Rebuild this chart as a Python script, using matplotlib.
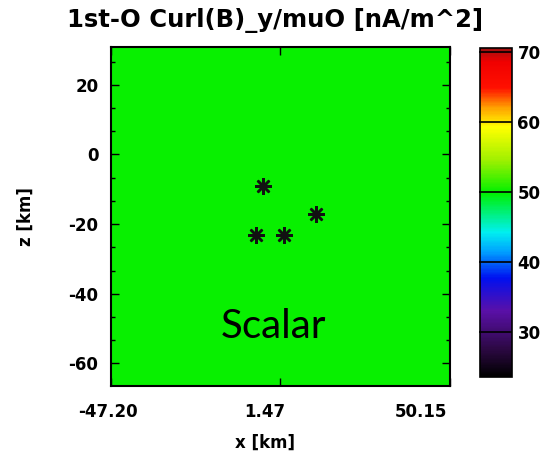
import numpy as np
import matplotlib
matplotlib.use("Agg")
import matplotlib.pyplot as plt
import matplotlib.transforms as mtransforms
from matplotlib.colors import LinearSegmentedColormap
from matplotlib.ticker import AutoMinorLocator

plt.rcParams["axes.unicode_minus"] = False

# domain (km)
x_range = [-47.20, 50.15]
z_range = [-66.5, 30.85]
x_ticks = [-47.20, 1.47, 50.15]
x_tick_labels = ["-47.20", "1.47", "50.15"]
z_ticks = [20, 0, -20, -40, -60]

# field: uniform value across the grid (nA/m^2)
field_value = 50.0
grid_nx, grid_nz = 4, 4

# spacecraft positions (x, z) in km
sc_x = [-3.5, 11.7, -5.6, 2.5]
sc_z = [-9.2, -17.2, -23.2, -23.2]

cbar_range = [23.5, 70.5]
cbar_ticks = [30, 40, 50, 60, 70]

cmap = LinearSegmentedColormap.from_list(
    "idl_rainbow",
    [
        (0.00, "#000000"),
        (0.08, "#2a0840"),
        (0.20, "#5a10a8"),
        (0.30, "#0010f0"),
        (0.38, "#00a0ff"),
        (0.44, "#00f0f0"),
        (0.56, "#00f000"),
        (0.66, "#a0f000"),
        (0.76, "#ffff00"),
        (0.82, "#ffa000"),
        (0.88, "#ff1000"),
        (0.96, "#f00000"),
        (1.00, "#a01010"),
    ],
)

fig = plt.figure(figsize=(5.5, 4.59), dpi=100)
ax = fig.add_axes([0.2018, 0.159, 0.6164, 0.7386])

xe = np.linspace(x_range[0], x_range[1], grid_nx + 1)
ze = np.linspace(z_range[0], z_range[1], grid_nz + 1)
field = np.full((grid_nz, grid_nx), field_value)
mesh = ax.pcolormesh(xe, ze, field, cmap=cmap,
                     vmin=cbar_range[0], vmax=cbar_range[1], shading="flat")

ax.plot(sc_x, sc_z, linestyle="none", marker=(8, 2, 0), markersize=12,
        markeredgewidth=1.8, color="#111111")

ax.text(-0.4, -49.5, "Scalar", fontsize=29, family="Lato",
        ha="center", va="center", color="black")

ax.set_xlim(x_range)
ax.set_ylim(z_range)
ax.set_xticks(x_ticks)
ax.set_xticklabels(x_tick_labels)
ax.set_yticks(z_ticks)
ax.yaxis.set_minor_locator(AutoMinorLocator(3))
ax.tick_params(direction="in", top=True, right=True, length=6, width=1)
ax.tick_params(which="minor", direction="in", right=True, length=3, width=1)
for lbl in ax.get_xticklabels() + ax.get_yticklabels():
    lbl.set_fontweight("bold")
    lbl.set_fontsize(12)
ax.tick_params(axis="x", pad=12)
ax.tick_params(axis="y", pad=9)
# labels in the original sit a little left of their ticks
for lbl, dx in zip(ax.get_xticklabels(), [-3, -16, -29]):
    lbl.set_transform(lbl.get_transform() + mtransforms.ScaledTranslation(
        dx / 100, 0, fig.dpi_scale_trans))
for sp in ax.spines.values():
    sp.set_linewidth(1.5)

ax.set_xlabel("x [km]", fontsize=12, fontweight="bold")
ax.set_ylabel("z [km]", fontsize=12, fontweight="bold", labelpad=24)
ax.xaxis.set_label_coords(0.455, -0.14)
fig.text(0.5, 0.955, "1st-O Curl(B)_y/muO [nA/m^2]", fontsize=17.5,
         fontweight="bold", ha="center", va="center")

cax = fig.add_axes([0.8727, 0.1786, 0.058, 0.7168])
cb = fig.colorbar(mesh, cax=cax, ticks=cbar_ticks)
cb.outline.set_linewidth(1.2)
cax.tick_params(direction="in", length=24, width=1.2, labelsize=12, pad=4)
for lbl in cax.get_yticklabels():
    lbl.set_fontweight("bold")

fig.savefig("out.png", dpi=100)
